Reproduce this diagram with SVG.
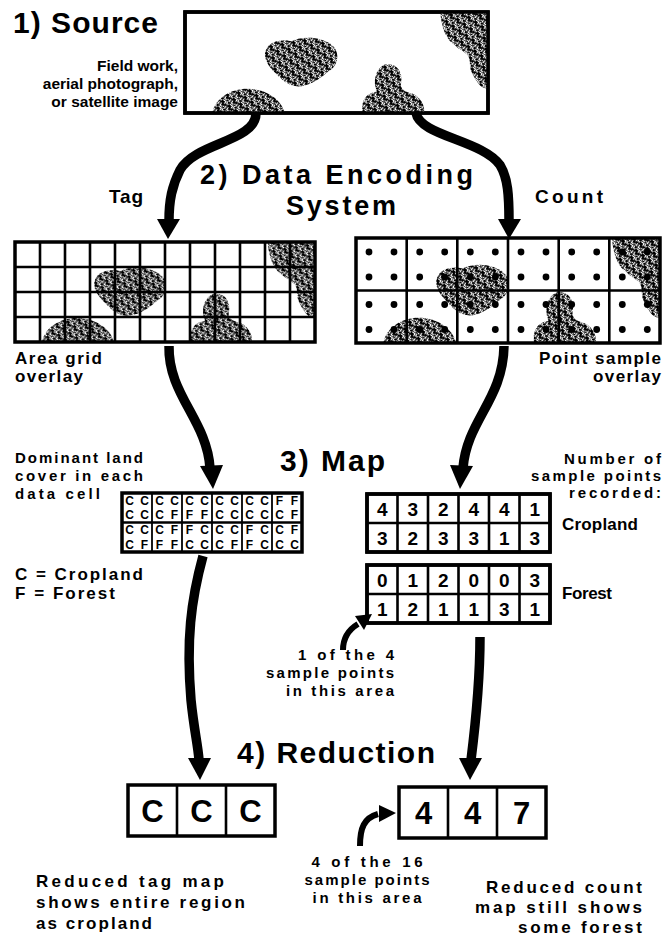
<svg xmlns="http://www.w3.org/2000/svg" xmlns:xlink="http://www.w3.org/1999/xlink" width="665" height="939" viewBox="0 0 665 939">
  <style>
    text { font-family: "Liberation Sans", Arial, Helvetica, sans-serif; font-weight: bold; fill: #000; }
    .h { font-size: 30px; }
    .h2 { font-size: 27px; }
    .cap { font-size: 17px; }
    .capr { font-size: 15px; }
    .small { font-size: 15.5px; }
    .end { text-anchor: end; }
    .mid { text-anchor: middle; }
    .box { fill: #fff; stroke: #000; stroke-width: 3.5; }
    .frame { fill: none; stroke: #000; stroke-width: 3.5; }
    .line { stroke: #000; stroke-width: 2.6; fill: none; }
    .thin { stroke: #000; stroke-width: 1.8; fill: none; }
    .arrow { fill: none; stroke: #000; stroke-width: 9.5; stroke-linecap: butt; }
    .arrow-s { fill: none; stroke: #000; stroke-width: 6; }
    .head { fill: #000; }
    .dot { fill: #000; }
    .tag { font-size: 12px; }
    .num { font-size: 19px; }
    .big { font-size: 31px; }
  </style>
  <defs>
    <!-- labyrinth-like halftone used for the forest patches -->
    <pattern id="maze" width="8" height="8" patternUnits="userSpaceOnUse" patternTransform="rotate(35)">
      <rect width="8" height="8" fill="#000"/>
      <path d="M0.5 1.2h3.5v2.8M5.6 0v2.6h2.4M1.2 4.6v2.8h2.6M6.8 4.6v3.4M4.2 6.6h1.6" stroke="#fff" stroke-width="1.1" fill="none"/>
    </pattern>
    <!-- forest patches on a 300 x 100 frame -->
    <g id="patches" fill="url(#maze)">
      <path d="M80,38 C82,30 95,26 105,29 C118,23 136,25 146,33 C153,40 152,50 146,56 C138,62 130,70 118,73 C106,76 97,69 90,61 C82,53 77,45 80,38 Z"/>
      <path d="M27,100 C30,85 45,76 62,76 C80,76 95,86 99,100 Z"/>
      <path d="M176,100 C174,90 178,80 190,79 C186,70 188,56 198,52 C210,50 216,60 214,70 C213,75 216,78 222,80 C232,82 238,92 237,100 Z"/>
      <path d="M253,0 L300,0 L300,76 C292,76 288,68 284,60 C280,52 285,46 277,40 C268,34 261,30 257,20 C254,12 253,6 253,0 Z"/>
    </g>
    <clipPath id="clip-src"><rect x="185" y="12" width="303" height="101"/></clipPath>
    <clipPath id="clip-tag"><rect x="15" y="242" width="300" height="100"/></clipPath>
    <clipPath id="clip-cnt"><rect x="356" y="238" width="304" height="105"/></clipPath>
  </defs>

  <rect width="665" height="939" fill="#fff"/>

  <!-- 1) Source -->
  <g id="node-source">
    <text class="h" x="13" y="33" textLength="145">1) Source</text>
    <text class="small end" x="178" y="71">Field work,</text>
    <text class="small end" x="178" y="89">aerial photograph,</text>
    <text class="small end" x="178" y="107">or satellite image</text>
    <rect class="box" x="185" y="12" width="303" height="101"/>
    <g clip-path="url(#clip-src)">
      <use xlink:href="#patches" transform="translate(185,12) scale(1.01,1.01)"/>
    </g>
    <rect class="frame" x="185" y="12" width="303" height="101"/>
  </g>

  <!-- 2) Data encoding heading and branch labels -->
  <g id="node-encoding">
    <text class="h2" x="200" y="184" textLength="273">2) Data Encoding</text>
    <text class="h2 mid" x="341" y="215" textLength="110">System</text>
    <text class="cap" x="109" y="203" textLength="34" style="font-size:19px">Tag</text>
    <text class="cap" x="535" y="203" textLength="68" style="font-size:19px">Count</text>
  </g>

  <!-- Area grid overlay -->
  <g id="node-tag-grid">
    <rect x="15" y="242" width="300" height="100" fill="#fff"/>
    <g clip-path="url(#clip-tag)">
      <use xlink:href="#patches" transform="translate(15,242)"/>
    </g>
    <path class="line" d="M40,242V342M65,242V342M90,242V342M115,242V342M140,242V342M165,242V342M190,242V342M215,242V342M240,242V342M265,242V342M290,242V342M15,267H315M15,292H315M15,317H315"/>
    <rect class="frame" x="15" y="242" width="300" height="100"/>
    <text class="cap" x="15" y="364" textLength="87">Area grid</text>
    <text class="cap" x="15" y="382" textLength="68">overlay</text>
  </g>

  <!-- Point sample overlay -->
  <g id="node-count-grid">
    <rect x="356" y="238" width="304" height="105" fill="#fff"/>
    <g clip-path="url(#clip-cnt)">
      <use xlink:href="#patches" transform="translate(356,238) scale(1.013,1.05)"/>
    </g>
    <g class="dot">
      <circle cx="369" cy="252" r="3.4"/><circle cx="394" cy="252" r="3.4"/><circle cx="369" cy="277" r="3.4"/><circle cx="394" cy="277" r="3.4"/>
      <circle cx="419.7" cy="252" r="3.4"/><circle cx="444.7" cy="252" r="3.4"/><circle cx="419.7" cy="277" r="3.4"/><circle cx="444.7" cy="277" r="3.4"/>
      <circle cx="470.3" cy="252" r="3.4"/><circle cx="495.3" cy="252" r="3.4"/><circle cx="470.3" cy="277" r="3.4"/><circle cx="495.3" cy="277" r="3.4"/>
      <circle cx="521" cy="252" r="3.4"/><circle cx="546" cy="252" r="3.4"/><circle cx="521" cy="277" r="3.4"/><circle cx="546" cy="277" r="3.4"/>
      <circle cx="571.7" cy="252" r="3.4"/><circle cx="596.7" cy="252" r="3.4"/><circle cx="571.7" cy="277" r="3.4"/><circle cx="596.7" cy="277" r="3.4"/>
      <circle cx="622.3" cy="252" r="3.4"/><circle cx="647.3" cy="252" r="3.4"/><circle cx="622.3" cy="277" r="3.4"/><circle cx="647.3" cy="277" r="3.4"/>
      <circle cx="369" cy="304.5" r="3.4"/><circle cx="394" cy="304.5" r="3.4"/><circle cx="369" cy="329.5" r="3.4"/><circle cx="394" cy="329.5" r="3.4"/>
      <circle cx="419.7" cy="304.5" r="3.4"/><circle cx="444.7" cy="304.5" r="3.4"/><circle cx="419.7" cy="329.5" r="3.4"/><circle cx="444.7" cy="329.5" r="3.4"/>
      <circle cx="470.3" cy="304.5" r="3.4"/><circle cx="495.3" cy="304.5" r="3.4"/><circle cx="470.3" cy="329.5" r="3.4"/><circle cx="495.3" cy="329.5" r="3.4"/>
      <circle cx="521" cy="304.5" r="3.4"/><circle cx="546" cy="304.5" r="3.4"/><circle cx="521" cy="329.5" r="3.4"/><circle cx="546" cy="329.5" r="3.4"/>
      <circle cx="571.7" cy="304.5" r="3.4"/><circle cx="596.7" cy="304.5" r="3.4"/><circle cx="571.7" cy="329.5" r="3.4"/><circle cx="596.7" cy="329.5" r="3.4"/>
      <circle cx="622.3" cy="304.5" r="3.4"/><circle cx="647.3" cy="304.5" r="3.4"/><circle cx="622.3" cy="329.5" r="3.4"/><circle cx="647.3" cy="329.5" r="3.4"/>
    </g>
    <path class="line" d="M406.7,238V343M457.3,238V343M508,238V343M558.7,238V343M609.3,238V343M356,290.5H660"/>
    <rect class="frame" x="356" y="238" width="304" height="105"/>
    <text class="cap end" x="661" y="364" textLength="122">Point sample</text>
    <text class="cap end" x="661" y="382" textLength="68">overlay</text>
  </g>

  <!-- 3) Map -->
  <g id="node-map-heading">
    <text class="h" x="280" y="471" textLength="105">3) Map</text>
  </g>

  <!-- Tag map: dominant cover per data cell -->
  <g id="node-tag-map">
    <text class="capr" x="15" y="463" textLength="128">Dominant land</text>
    <text class="capr" x="15" y="481" textLength="128">cover in each</text>
    <text class="capr" x="15" y="499" textLength="85">data cell</text>
    <rect x="122" y="493" width="180" height="59" fill="#fff"/>
    <g class="tag mid">
      <text x="129.5 144.5 159.5 174.5 189.5 204.5 219.5 234.5 249.5 264.5 279.5 294.5" y="504.5">CCCCCCCCCCFF</text>
      <text x="129.5 144.5 159.5 174.5 189.5 204.5 219.5 234.5 249.5 264.5 279.5 294.5" y="519.2">CCCFFFCCCCCF</text>
      <text x="129.5 144.5 159.5 174.5 189.5 204.5 219.5 234.5 249.5 264.5 279.5 294.5" y="534">CCCFFCCCFCCF</text>
      <text x="129.5 144.5 159.5 174.5 189.5 204.5 219.5 234.5 249.5 264.5 279.5 294.5" y="548.7">CFFFCCCFFCCC</text>
    </g>
    <path class="thin" d="M152,493V552M182,493V552M212,493V552M242,493V552M272,493V552"/>
    <path class="line" d="M122,522.5H302"/>
    <rect class="frame" x="122" y="493" width="180" height="59"/>
    <text class="cap" x="15" y="580" textLength="128">C = Cropland</text>
    <text class="cap" x="15" y="599" textLength="100">F = Forest</text>
  </g>

  <!-- Count map: sample points per land cover -->
  <g id="node-count-map">
    <text class="capr end" x="661" y="464" textLength="97">Number of</text>
    <text class="capr end" x="661" y="481" textLength="130">sample points</text>
    <text class="capr end" x="661" y="498" textLength="92">recorded:</text>
    <rect class="box" x="367" y="494" width="183" height="58"/>
    <path class="line" d="M397.5,494V552M428,494V552M458.5,494V552M489,494V552M519.5,494V552M367,523H550"/>
    <rect class="frame" x="367" y="494" width="183" height="58"/>
    <g class="num mid">
      <text x="382.3 412.8 443.3 473.8 504.3 534.8" y="515.5">432441</text>
      <text x="382.3 412.8 443.3 473.8 504.3 534.8" y="544.5">323313</text>
    </g>
    <text class="cap" x="562" y="530" textLength="76">Cropland</text>
    <rect class="box" x="367" y="565" width="183" height="58"/>
    <path class="line" d="M397.5,565V623M428,565V623M458.5,565V623M489,565V623M519.5,565V623M367,594H550"/>
    <rect class="frame" x="367" y="565" width="183" height="58"/>
    <g class="num mid">
      <text x="382.3 412.8 443.3 473.8 504.3 534.8" y="586.5">012003</text>
      <text x="382.3 412.8 443.3 473.8 504.3 534.8" y="615.5">121131</text>
    </g>
    <text class="cap" x="562" y="599" textLength="50">Forest</text>
    <text class="capr end" x="394" y="660" textLength="96">1 of the 4</text>
    <text class="capr end" x="394" y="678" textLength="128">sample points</text>
    <text class="capr end" x="394" y="696" textLength="108">in this area</text>
  </g>

  <!-- 4) Reduction -->
  <g id="node-reduction-heading">
    <text class="h" x="237" y="763" textLength="198">4) Reduction</text>
  </g>

  <g id="node-tag-reduced">
    <rect class="box" x="128" y="785" width="147" height="51"/>
    <path class="line" d="M177,785V836M226,785V836"/>
    <g class="big mid">
      <text x="152.5 201.5 250.5" y="822">CCC</text>
    </g>
    <text class="cap" x="36" y="887" textLength="188">Reduced tag map</text>
    <text class="cap" x="36" y="908" textLength="209">shows entire region</text>
    <text class="cap" x="36" y="929" textLength="116">as cropland</text>
  </g>

  <g id="node-count-reduced">
    <rect class="box" x="399" y="787" width="147" height="51"/>
    <path class="line" d="M448,787V838M497,787V838"/>
    <g class="big mid">
      <text x="423.5 472.5 521.5" y="824">447</text>
    </g>
    <text class="capr mid" x="367" y="867" textLength="111">4 of the 16</text>
    <text class="capr mid" x="367" y="885" textLength="125">sample points</text>
    <text class="capr mid" x="367" y="903" textLength="109">in this area</text>
    <text class="cap end" x="642" y="893" textLength="156">Reduced count</text>
    <text class="cap end" x="642" y="913" textLength="167">map still shows</text>
    <text class="cap end" x="642" y="933" textLength="124">some forest</text>
  </g>

  <!-- connectors -->
  <g id="connectors">
    <path class="arrow" d="M256,113 C256,142 196,142 180,170 C172,186 169,200 169,221"/>
    <polygon class="head" points="157,219 180,219 168,239"/>
    <path class="arrow" d="M416,113 C420,136 482,140 500,165 C508,178 509,196 509,221"/>
    <polygon class="head" points="498,219 521,219 509,239"/>

    <path class="arrow" d="M169,346 C168,395 207,420 210,468"/>
    <polygon class="head" points="200,466 223,465 213,489"/>
    <path class="arrow" d="M504,346 C503,400 467,420 463,468"/>
    <polygon class="head" points="450,465 473,466 460,489"/>

    <path class="arrow" d="M203,556 C191,600 186,640 191,700 C194,730 198,745 199,760"/>
    <polygon class="head" points="188,758 211,758 200,780"/>
    <path class="arrow" d="M480,637 C480,680 476,720 471,760"/>
    <polygon class="head" points="459,758 482,758 470,780"/>

    <path class="arrow-s" d="M343,650 C343,638 348,630 358,624"/>
    <polygon class="head" points="372,614 355,616 364,630"/>
    <path class="arrow-s" d="M360,846 C360,828 364,818 378,814"/>
    <polygon class="head" points="396,813 379,805 379,822"/>
  </g>
</svg>
